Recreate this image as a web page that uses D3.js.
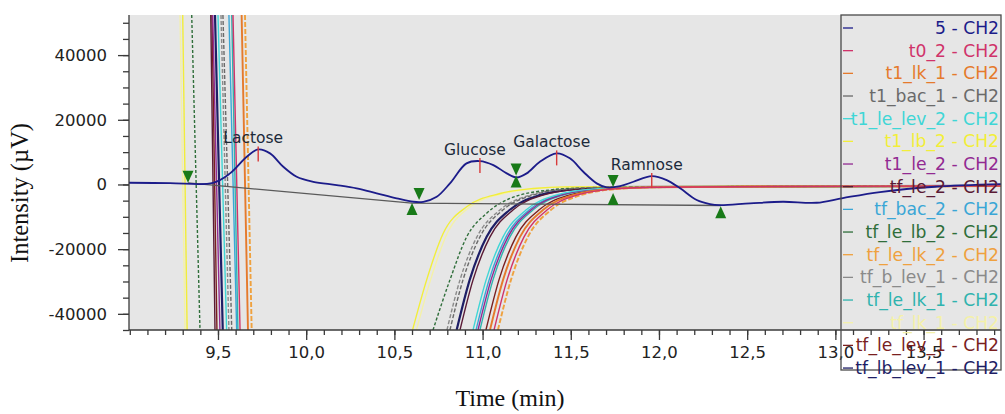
<!DOCTYPE html>
<html>
<head>
<meta charset="utf-8">
<title>Chromatogram CH2</title>
<script src="https://cdn.jsdelivr.net/npm/d3@7/dist/d3.min.js"></script>
<style>
  body { margin: 0; background: #fff; }
  svg text { font-family: "DejaVu Sans", sans-serif; }
</style>
</head>
<body>
<div id="chart"></div>
<script>
// ---- data ----
const xTicks = [9.5, 10.0, 10.5, 11.0, 11.5, 12.0, 12.5, 13.0, 13.5];
const yTicks = [-40000, -20000, 0, 20000, 40000];

const peakNames  = ["Lactose", "Glucose", "Galactose", "Ramnose"];
const peakTimes  = [9.728, 10.985, 11.42, 11.959];
const peakValues = [10850, 7230, 9610, 2600];

// integration markers (tip of triangle)
const markerTimes  = [9.33, 10.60, 10.64, 11.19, 11.19, 11.74, 11.74, 12.35];
const markerValues = [500, -5750, -4800, 2750, 2750, -800, -2650, -6700];
const markerDirs   = ["down", "up", "down", "down", "up", "down", "up", "up"];

const baselineTimes  = [9.33, 10.60, 12.35];
const baselineValues = [500, -5800, -6500];

const legendNames = ["5 - CH2", "t0_2 - CH2", "t1_lk_1 - CH2", "t1_bac_1 - CH2", "t1_le_lev_2 - CH2",
  "t1_lb_2 - CH2", "t1_le_2 - CH2", "tf_le_2 - CH2", "tf_bac_2 - CH2", "tf_le_lb_2 - CH2",
  "tf_le_lk_2 - CH2", "tf_b_lev_1 - CH2", "tf_le_lk_1 - CH2", "tf_lk_1 - CH2", "tf_le_lev_1 - CH2",
  "tf_lb_lev_1 - CH2"];
const legendColors = ["#1c1c8a", "#d0336a", "#e57a2c", "#6a6a6a", "#3fd6d6",
  "#f2ee3a", "#922a92", "#5a1a35", "#3aa6d6", "#2f6e3a",
  "#efa13e", "#8a8a8a", "#2fb3ae", "#f4f1a8", "#7a1f1f",
  "#1e1e66"];

// [time (min), intensity (µV)]; null = off scale
const trace5 = [[8.995,525],[9.228,430],[9.472,500],[9.568,3430],[9.663,8560],[9.728,10850],[9.795,9610],
  [9.870,5470],[9.946,2380],[10.040,835],[10.173,-185],[10.286,-1205],[10.400,-2750],[10.513,-4300],
  [10.607,-5350],[10.664,-5350],[10.740,-3800],[10.815,340],[10.909,6520],[10.985,7230],[11.061,6000],
  [11.137,3430],[11.193,2190],[11.250,3430],[11.325,7020],[11.420,9610],[11.495,8070],[11.571,3930],
  [11.647,340],[11.704,-900],[11.780,-495],[11.855,835],[11.959,2600],[12.044,1360],[12.120,-1205],
  [12.214,-4820],[12.289,-6060],[12.346,-6370],[12.516,-5840],[12.703,-5350],[12.894,-5660],
  [13.043,-4200],[13.253,-2350],[13.565,-710],[13.94,100]];
const traceT0_2 = [[9.585,52400],[9.625,-45000],[10.3,null],[11.065,-45000],[11.139,-29500],[11.235,-16200],
  [11.365,-7900],[11.535,-3300],[11.762,-1300],[11.972,-850],[12.6,-650],[13.94,-450]];
const traceT1_lk_1 = [[9.634,52400],[9.670,-45000],[10.3,null],[11.042,-45000],[11.116,-29500],[11.212,-16200],
  [11.342,-7900],[11.512,-3300],[11.739,-1300],[11.949,-850],[12.6,-700],[13.94,-500]];
const traceT1_bac_1 = [[9.528,52400],[9.578,-45000],[10.3,null],[10.815,-45000],[10.889,-29500],[10.985,-16200],
  [11.115,-7900],[11.285,-3300],[11.512,-1300],[11.722,-850],[12.6,-650],[13.94,-450]];
const traceT1_le_lev_2 = [[9.500,52400],[9.549,-45000],[10.3,null],[10.946,-45000],[11.020,-29500],[11.116,-16200],
  [11.246,-7900],[11.416,-3300],[11.643,-1300],[11.853,-850],[12.6,-700],[13.94,-500]];
const traceT1_lb_2 = [[9.300,52400],[9.325,-45000],[10.0,null],[10.603,-45000],[10.683,-29500],[10.777,-15100],
  [10.910,-6900],[11.099,-2800],[11.286,-1250],[11.477,-750],[12.3,-600],[13.94,-450]];
const traceT1_le_2 = [[9.470,52400],[9.511,-45000],[10.3,null],[10.974,-45000],[11.048,-29500],[11.144,-16200],
  [11.274,-7900],[11.444,-3300],[11.671,-1300],[11.881,-850],[12.6,-650],[13.94,-450]];
const traceTf_le_2 = [[9.459,52400],[9.483,-45000],[10.3,null],[10.872,-45000],[10.946,-29500],[11.042,-16200],
  [11.172,-7900],[11.342,-3300],[11.569,-1300],[11.779,-850],[12.6,-600],[13.94,-400]];
const traceTf_bac_2 = [[9.562,52400],[9.606,-45000],[10.3,null],[10.963,-45000],[11.037,-29500],[11.133,-16200],
  [11.263,-7900],[11.433,-3300],[11.660,-1300],[11.870,-850],[12.6,-700],[13.94,-500]];
const traceTf_le_lb_2 = [[9.351,52400],[9.398,-45000],[10.0,null],[10.719,-45000],[10.815,-29500],[10.910,-16200],
  [11.023,-8900],[11.156,-4300],[11.382,-1700],[11.609,-950],[12.4,-650],[13.94,-450]];
const traceTf_le_lk_2 = [[9.653,52400],[9.691,-45000],[10.3,null],[11.087,-45000],[11.161,-29500],[11.257,-16200],
  [11.387,-7900],[11.557,-3300],[11.784,-1300],[11.994,-850],[12.6,-700],[13.94,-500]];
const traceTf_b_lev_1 = [[9.517,52400],[9.562,-45000],[10.3,null],[10.798,-45000],[10.872,-29500],[10.968,-16200],
  [11.098,-7900],[11.268,-3300],[11.495,-1300],[11.705,-850],[12.6,-650],[13.94,-450]];
const traceTf_le_lk_1 = [[9.578,52400],[9.613,-45000],[10.3,null],[10.985,-45000],[11.059,-29500],[11.155,-16200],
  [11.285,-7900],[11.455,-3300],[11.682,-1300],[11.892,-850],[12.6,-700],[13.94,-500]];
const traceTf_lk_1 = [[9.285,52400],[9.313,-45000],[10.0,null],[10.625,-45000],[10.705,-29500],[10.800,-15100],
  [10.930,-6900],[11.120,-2800],[11.310,-1250],[11.500,-750],[12.3,-600],[13.94,-450]];
const traceTf_le_lev_1 = [[9.466,52400],[9.494,-45000],[10.3,null],[11.019,-45000],[11.093,-29500],[11.189,-16200],
  [11.319,-7900],[11.489,-3300],[11.716,-1300],[11.926,-850],[12.6,-600],[13.94,-400]];
const traceTf_lb_lev_1 = [[9.483,52400],[9.527,-45000],[10.3,null],[10.853,-45000],[10.927,-29500],[11.023,-16200],
  [11.153,-7900],[11.323,-3300],[11.550,-1300],[11.760,-850],[12.6,-600],[13.94,-400]];

const traces = [trace5, traceT0_2, traceT1_lk_1, traceT1_bac_1, traceT1_le_lev_2, traceT1_lb_2, traceT1_le_2,
  traceTf_le_2, traceTf_bac_2, traceTf_le_lb_2, traceTf_le_lk_2, traceTf_b_lev_1, traceTf_le_lk_1,
  traceTf_lk_1, traceTf_le_lev_1, traceTf_lb_lev_1];

// ---- drawing ----
const width = 1005, height = 414;
const plot = {left: 129, right: 1001, top: 15, bottom: 330};

const svg = d3.select("#chart").append("svg")
  .attr("width", width)
  .attr("height", height);

const x = d3.scaleLinear().domain([8.9955, 13.939]).range([plot.left, plot.right]);
const y = d3.scaleLinear().domain([-45000, 52400]).range([plot.bottom, plot.top]);

svg.append("rect")
  .attr("x", plot.left).attr("y", plot.top)
  .attr("width", plot.right - plot.left).attr("height", plot.bottom - plot.top)
  .attr("fill", "#e6e6e6");

svg.append("clipPath").attr("id", "clip")
  .append("rect")
  .attr("x", plot.left).attr("y", plot.top)
  .attr("width", plot.right - plot.left).attr("height", plot.bottom - plot.top);

const g = svg.append("g").attr("clip-path", "url(#clip)");

const line = d3.line()
  .defined(d => d[1] !== null)
  .x(d => x(d[0]))
  .y(d => y(d[1]))
  .curve(d3.curveMonotoneX);

// other traces first, main chromatogram on top
const dashed = {3: "4,2", 9: "3,2", 11: "4,2", 10: "5,2"};
for (let i = traces.length - 1; i >= 1; i--) {
  g.append("path")
    .attr("d", line(traces[i]))
    .attr("fill", "none")
    .attr("stroke", legendColors[i])
    .attr("stroke-width", i == 15 ? 2.2 : (i == 2 || i == 10 ? 1.9 : 1.4))
    .attr("stroke-dasharray", dashed[i] || null);
}

// integration baseline
g.append("path")
  .attr("d", d3.line().x(d => x(d[0])).y(d => y(d[1]))(baselineTimes.map((t, i) => [t, baselineValues[i]])))
  .attr("fill", "none")
  .attr("stroke", "#5a5a5a")
  .attr("stroke-width", 1.3);

g.append("path")
  .attr("d", d3.line().x(d => x(d[0])).y(d => y(d[1])).curve(d3.curveCatmullRom.alpha(0.5))(trace5))
  .attr("fill", "none")
  .attr("stroke", legendColors[0])
  .attr("stroke-width", 1.8);

// apex ticks
peakTimes.forEach(function(t, i) {
  g.append("line")
    .attr("x1", x(t)).attr("x2", x(t))
    .attr("y1", y(peakValues[i]) - 3).attr("y2", y(peakValues[i]) + 12)
    .attr("stroke", "#d83a3a").attr("stroke-width", 1.4);
  svg.append("text")
    .attr("x", x(t) - 5).attr("y", y(peakValues[i]) - 6)
    .attr("text-anchor", "middle")
    .attr("font-size", "15.5px")
    .attr("fill", "#1c2a3a")
    .text(peakNames[i]);
});

// green markers
markerTimes.forEach(function(t, i) {
  const px = x(t), py = y(markerValues[i]);
  const s = markerDirs[i] == "down" ? -1 : 1;
  g.append("path")
    .attr("d", "M" + px + "," + py + "L" + (px - 5.5) + "," + (py + s * 12) + "L" + (px + 5.5) + "," + (py + s * 12) + "Z")
    .attr("fill", "#187a18");
});

// axes
const axisColor = "#3a3a3a";
const yAxis = svg.append("g").attr("transform", "translate(" + plot.left + ",0)")
  .call(d3.axisLeft(y).tickValues(yTicks).tickSize(11).tickFormat(d => String(d)));
svg.append("g").attr("transform", "translate(" + plot.left + ",0)")
  .call(d3.axisLeft(y).tickValues(d3.range(-45000, 52000, 5000)).tickSize(6).tickFormat(""))
  .select(".domain").remove();
yAxis.select(".domain").attr("d", "M0," + plot.top + "V" + plot.bottom);

const xAxis = svg.append("g").attr("transform", "translate(0," + plot.bottom + ")")
  .call(d3.axisBottom(x).tickValues(xTicks).tickSize(10).tickFormat(d => d.toFixed(1).replace(".", ",")));
svg.append("g").attr("transform", "translate(0," + plot.bottom + ")")
  .call(d3.axisBottom(x).tickValues(d3.range(9.0, 13.95, 0.1)).tickSize(5).tickFormat(""))
  .select(".domain").remove();
xAxis.select(".domain").attr("d", "M" + plot.left + ",0H" + plot.right);

svg.selectAll(".domain, .tick line").attr("stroke", axisColor).attr("stroke-width", 1.3);
yAxis.selectAll("text").attr("font-size", "16.5px").attr("fill", "#222").attr("font-family", "DejaVu Sans").attr("dx", "-8px");
xAxis.selectAll("text").attr("font-size", "16.5px").attr("fill", "#222").attr("font-family", "DejaVu Sans").attr("dy", "0.9em");

// axis titles
svg.append("text")
  .attr("x", 510).attr("y", 406)
  .attr("text-anchor", "middle")
  .style("font-family", "'Liberation Serif', serif")
  .attr("font-size", "24px")
  .attr("fill", "#111")
  .text("Time (min)");
svg.append("text")
  .attr("transform", "translate(28,193) rotate(-90)")
  .attr("text-anchor", "middle")
  .style("font-family", "'Liberation Serif', serif")
  .attr("font-size", "24.5px")
  .attr("fill", "#111")
  .text("Intensity (µV)");

// legend (transparent box drawn over the plot)
const legend = svg.append("g");
legend.append("rect")
  .attr("x", 841).attr("y", 15).attr("width", 160).attr("height", 355)
  .attr("fill", "none").attr("stroke", "#4a4a4a").attr("stroke-width", 1.3);
legendNames.forEach(function(name, i) {
  const cy = 28 + i * 22.67;
  legend.append("line")
    .attr("x1", 843).attr("x2", 853).attr("y1", cy).attr("y2", cy)
    .attr("stroke", legendColors[i]).attr("stroke-width", 1.3);
  legend.append("text")
    .attr("x", 999).attr("y", cy + 6)
    .attr("text-anchor", "end")
    .attr("font-size", "17.2px")
    .attr("fill", legendColors[i])
    .text(name);
});
</script>
</body>
</html>
